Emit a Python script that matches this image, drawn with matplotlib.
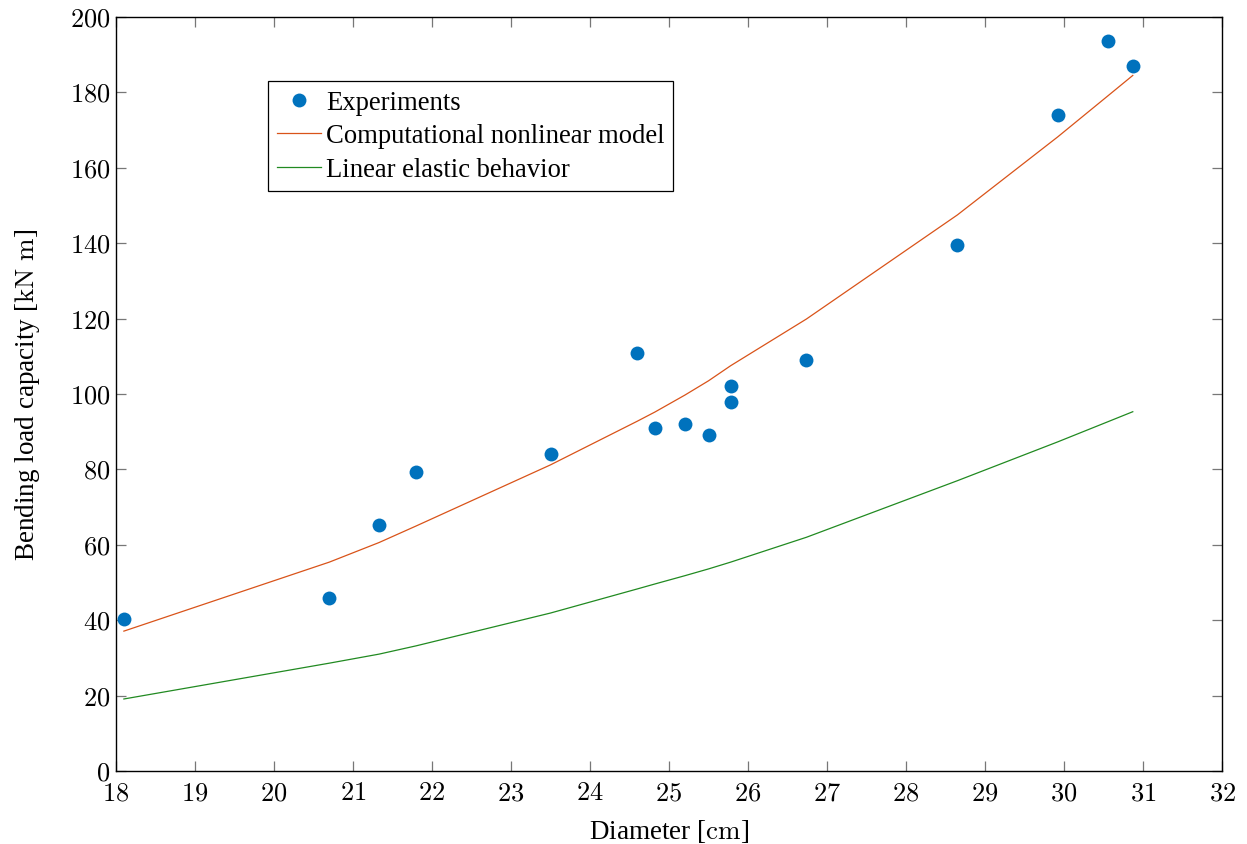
import matplotlib
matplotlib.use("Agg")
import matplotlib.pyplot as plt
from matplotlib.ticker import FuncFormatter

# Datos
diam_exp = [18.1, 20.7, 21.33, 21.8, 23.5, 24.6, 24.82, 25.2, 25.5, 25.78, 25.78,
            26.74, 28.65, 29.92, 30.55, 30.87]
carga_exp = [40.2, 45.8, 65.3, 79.3, 84.0, 110.8, 91.0, 92.1, 89.2, 102.0, 97.9,
             108.9, 139.5, 174.0, 193.7, 187.0]

diam_mod = [18.1, 20.7, 21.33, 21.8, 23.5, 24.6, 24.82, 25.2, 25.5, 25.78,
            26.74, 28.65, 29.92, 30.55, 30.87]
carga_nolineal = [37.1, 55.4, 60.6, 65.0, 81.2, 92.8, 95.2, 99.7, 103.5, 107.5,
                  119.9, 147.5, 168.2, 179.0, 184.5]
carga_elastica = [19.1, 28.6, 31.0, 33.2, 41.9, 48.3, 49.6, 51.8, 53.6, 55.4,
                  62.0, 77.0, 87.3, 92.6, 95.3]

plt.rcParams.update({
    'font.family': 'serif',
    'font.serif': ['Liberation Serif', 'DejaVu Serif'],
    'mathtext.fontset': 'cm',
    'xtick.direction': 'in',
    'ytick.direction': 'in',
    'xtick.top': True,
    'ytick.right': True,
})

fig = plt.figure(figsize=(12.47, 8.45), dpi=100)
ax = fig.add_axes([0.093, 0.0864, 0.887, 0.8923])

ax.plot(diam_exp, carga_exp, 'o', color='#0072BD', markersize=10,
        markeredgewidth=0, label='Experiments', zorder=3)
ax.plot(diam_mod, carga_nolineal, '-', color='#D95319', lw=0.9,
        label='Computational nonlinear model')
ax.plot(diam_mod, carga_elastica, '-', color='#218A21', lw=0.9,
        label='Linear elastic behavior')

ax.set_xlim(18, 32)
ax.set_ylim(0, 200)
ax.set_xticks(range(18, 33))
ax.set_yticks(range(0, 201, 20))

fmt = FuncFormatter(lambda v, p: r'$%d$' % v)
ax.xaxis.set_major_formatter(fmt)
ax.yaxis.set_major_formatter(fmt)
ax.tick_params(axis='both', which='major', labelsize=19, length=7, width=0.9,
               color='#777777', pad=4)
ax.tick_params(axis='x', pad=8)
for s in ax.spines.values():
    s.set_linewidth(1.0)
    s.set_color('black')

ax.set_xlabel(r'Diameter [$\mathrm{cm}$]', fontsize=19.5, labelpad=9)
ax.set_ylabel(r'Bending load capacity [$\mathrm{kN\ m}$]', fontsize=19.5, labelpad=20)

leg = ax.legend(loc='upper left', bbox_to_anchor=(0.1374, 0.915), fontsize=19.2,
                frameon=True, fancybox=False, edgecolor='black', framealpha=1,
                handlelength=1.65, handletextpad=0.2, borderpad=0.33,
                labelspacing=0.32, borderaxespad=0)
leg.get_frame().set_linewidth(0.9)

fig.savefig('out.png', dpi=100)
